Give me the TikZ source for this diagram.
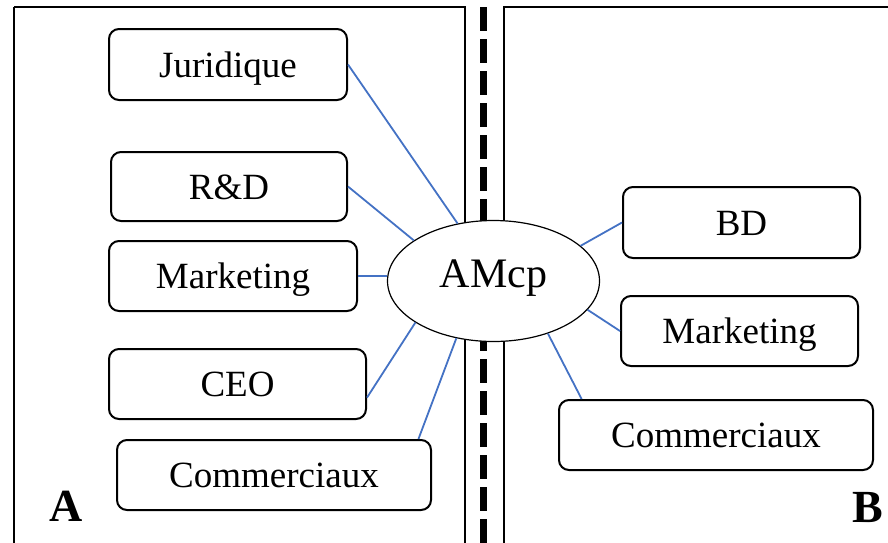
\documentclass[tikz,border=0pt]{standalone}
\usepackage{fontspec}
\setmainfont{Liberation Serif}
\usetikzlibrary{shapes.geometric}
\definecolor{linkblue}{HTML}{4472C4}
\begin{document}
\begin{tikzpicture}[x=1pt,y=-1pt,
  box/.style={draw, line width=2pt, rounded corners=10pt, inner sep=0pt,
    font=\fontsize{37}{40}\selectfont, text height=25pt, text depth=0pt},
  panel/.style={draw, line width=2pt},
  conn/.style={draw=linkblue, line width=1.8pt},
  corner/.style={font=\fontsize{46}{50}\selectfont\bfseries, inner sep=0pt}]
\useasboundingbox (0,0) rectangle (888,542);
\clip (0,0) rectangle (888,542);
% panels
\draw[panel] (14,7) -- (14,546) (14,7) -- (465,7) -- (465,546);
\draw[panel] (504,546) -- (504,7) -- (892,7);
% divider
\draw[line width=7pt, dash pattern=on 23.5pt off 8.5pt] (483,7) -- (483,546);
% centre
\node[ellipse, draw, fill=white, line width=1.2pt, minimum width=212pt, minimum height=121pt,
  inner sep=0pt, font=\fontsize{42}{46}\selectfont, text height=28pt, text depth=16pt]
  (amcp) at (493.5,281) {AMcp};
% left boxes
\node[box, minimum width=238pt, minimum height=71pt] (jur) at (228,64.5) {Juridique};
\node[box, minimum width=236pt, minimum height=69pt] (rd) at (229,186.5) {R\&D};
\node[box, minimum width=248pt, minimum height=70pt] (mkl) at (233,276) {Marketing};
\node[box, minimum width=257pt, minimum height=70pt] (ceo) at (237.5,384) {CEO};
\node[box, minimum width=314pt, minimum height=70pt] (coml) at (274,475) {Commerciaux};
% right boxes
\node[box, minimum width=237pt, minimum height=71pt] (bd) at (741.5,222.5) {BD};
\node[box, minimum width=237pt, minimum height=70pt] (mkr) at (739.5,331) {Marketing};
\node[box, minimum width=314pt, minimum height=70pt] (comr) at (716,435) {Commerciaux};
% connectors
\draw[conn] (jur.east) -- (amcp.122);
\draw[conn] (rd.east) -- (amcp.153);
\draw[conn] (mkl.east) -- (mkl.east -| amcp.west);
\draw[conn] (ceo.-6) -- (amcp.208);
\draw[conn] (coml.14) -- (amcp.237);
\draw[conn] (bd.west) -- (amcp.22);
\draw[conn] (mkr.west) -- (amcp.343);
\draw[conn] (comr.165) -- (amcp.316);
% panel labels
\node[corner, anchor=base west] (la) at (49,521) {A};
\node[corner, anchor=base east] (lb) at (883,522) {B};
\end{tikzpicture}
\end{document}
